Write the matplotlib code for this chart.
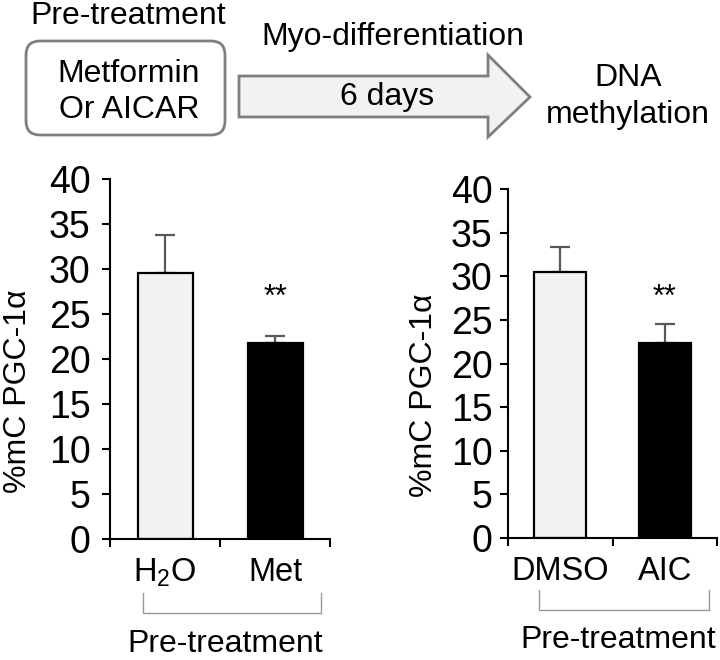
import matplotlib
matplotlib.use("Agg")
import matplotlib.pyplot as plt
from matplotlib.patches import FancyBboxPatch, Polygon

plt.rcParams['font.family'] = ['Liberation Sans', 'DejaVu Sans']
plt.rcParams['mathtext.default'] = 'regular'

# data
met_labels = ['H$_2$O', 'Met']
met_values = [29.6, 21.8]
met_err = [4.2, 0.8]
met_star = 26.8

aic_labels = ['DMSO', 'AIC']
aic_values = [30.5, 22.4]
aic_err = [2.8, 2.1]
aic_star = 27.5

yticks = [0, 5, 10, 15, 20, 25, 30, 35, 40]
bar_colors = ['#f2f2f2', '#000000']

W, H = 720, 660
fig = plt.figure(figsize=(W / 100, H / 100), dpi=100)

# overlay axes in pixel coordinates for the schematic at the top
top = fig.add_axes([0, 0, 1, 1])
top.set_xlim(0, W)
top.set_ylim(H, 0)
top.axis('off')

fs = 23
top.text(128, 16, 'Pre-treatment', fontsize=fs, ha='center', va='center')
box = FancyBboxPatch((26 + 14, 41 + 14), 199 - 28, 94 - 28,
                     boxstyle='round,pad=14', fc='white', ec='#7f7f7f', lw=2)
top.add_patch(box)
top.text(129, 74, 'Metformin', fontsize=fs, ha='center', va='center')
top.text(129, 110, 'Or AICAR', fontsize=fs, ha='center', va='center')

arrow = Polygon([(239, 76), (488, 76), (488, 55), (530, 97), (488, 137),
                 (488, 117), (239, 117)], closed=True,
                fc='#f2f2f2', ec='#7f7f7f', lw=2)
top.add_patch(arrow)
top.text(393, 37, 'Myo-differentiation', fontsize=fs, ha='center', va='center')
top.text(387, 97, '6 days', fontsize=fs, ha='center', va='center')
top.text(628, 78, 'DNA', fontsize=fs, ha='center', va='center')
top.text(628, 115, 'methylation', fontsize=fs, ha='center', va='center')


def panel(rect, labels, values, err, star, ypad, label_x):
    ax = fig.add_axes(rect)
    x = [0.5, 1.5]
    ax.bar(x, values, width=0.5, color=bar_colors, edgecolor='black',
           linewidth=1.6, zorder=2)
    ax.errorbar(x, values, yerr=[[0, 0], err], fmt='none', ecolor='#595959',
                elinewidth=1.6, capsize=7, capthick=1.6, zorder=1)
    ax.text(x[1], star, '**', fontsize=22, ha='center', va='center')
    ax.set_xlim(0, 2)
    ax.set_ylim(0, 40)
    ax.set_yticks(yticks)
    ax.set_xticks([0, 1, 2])
    ax.set_xticklabels([])
    ax.set_xticks(x, minor=True)
    ax.set_xticklabels(labels, minor=True, fontsize=23.5)
    ax.tick_params(axis='x', which='minor', length=0, pad=13)
    ax.tick_params(axis='x', which='major', length=6, width=1.5, direction='out')
    ax.tick_params(axis='y', length=6, width=1.5, direction='out',
                   labelsize=27, pad=ypad)
    for s in ['top', 'right']:
        ax.spines[s].set_visible(False)
    for s in ['left', 'bottom']:
        ax.spines[s].set_linewidth(1.5)
    ax.set_ylabel('%mC PGC-1\u03b1', fontsize=fs, va='center')
    ax.yaxis.set_label_coords(label_x, 0.41)
    # bracket under the group
    ax.plot([0.3, 0.3, 1.92, 1.92], [-6.0, -8.2, -8.2, -6.0], color='#999999',
            lw=1, clip_on=False)
    ax.text(1.05, -12.6, 'Pre-treatment', fontsize=fs, ha='center',
            va='baseline', clip_on=False)
    return ax


panel([110 / W, (H - 539) / H, 220 / W, 360 / H], met_labels, met_values,
      met_err, met_star, 8, -0.42)
panel([508 / W, (H - 538) / H, 209 / W, 349 / H], aic_labels, aic_values,
      aic_err, aic_star, 5, -0.40)

fig.savefig('out.png', dpi=100)
